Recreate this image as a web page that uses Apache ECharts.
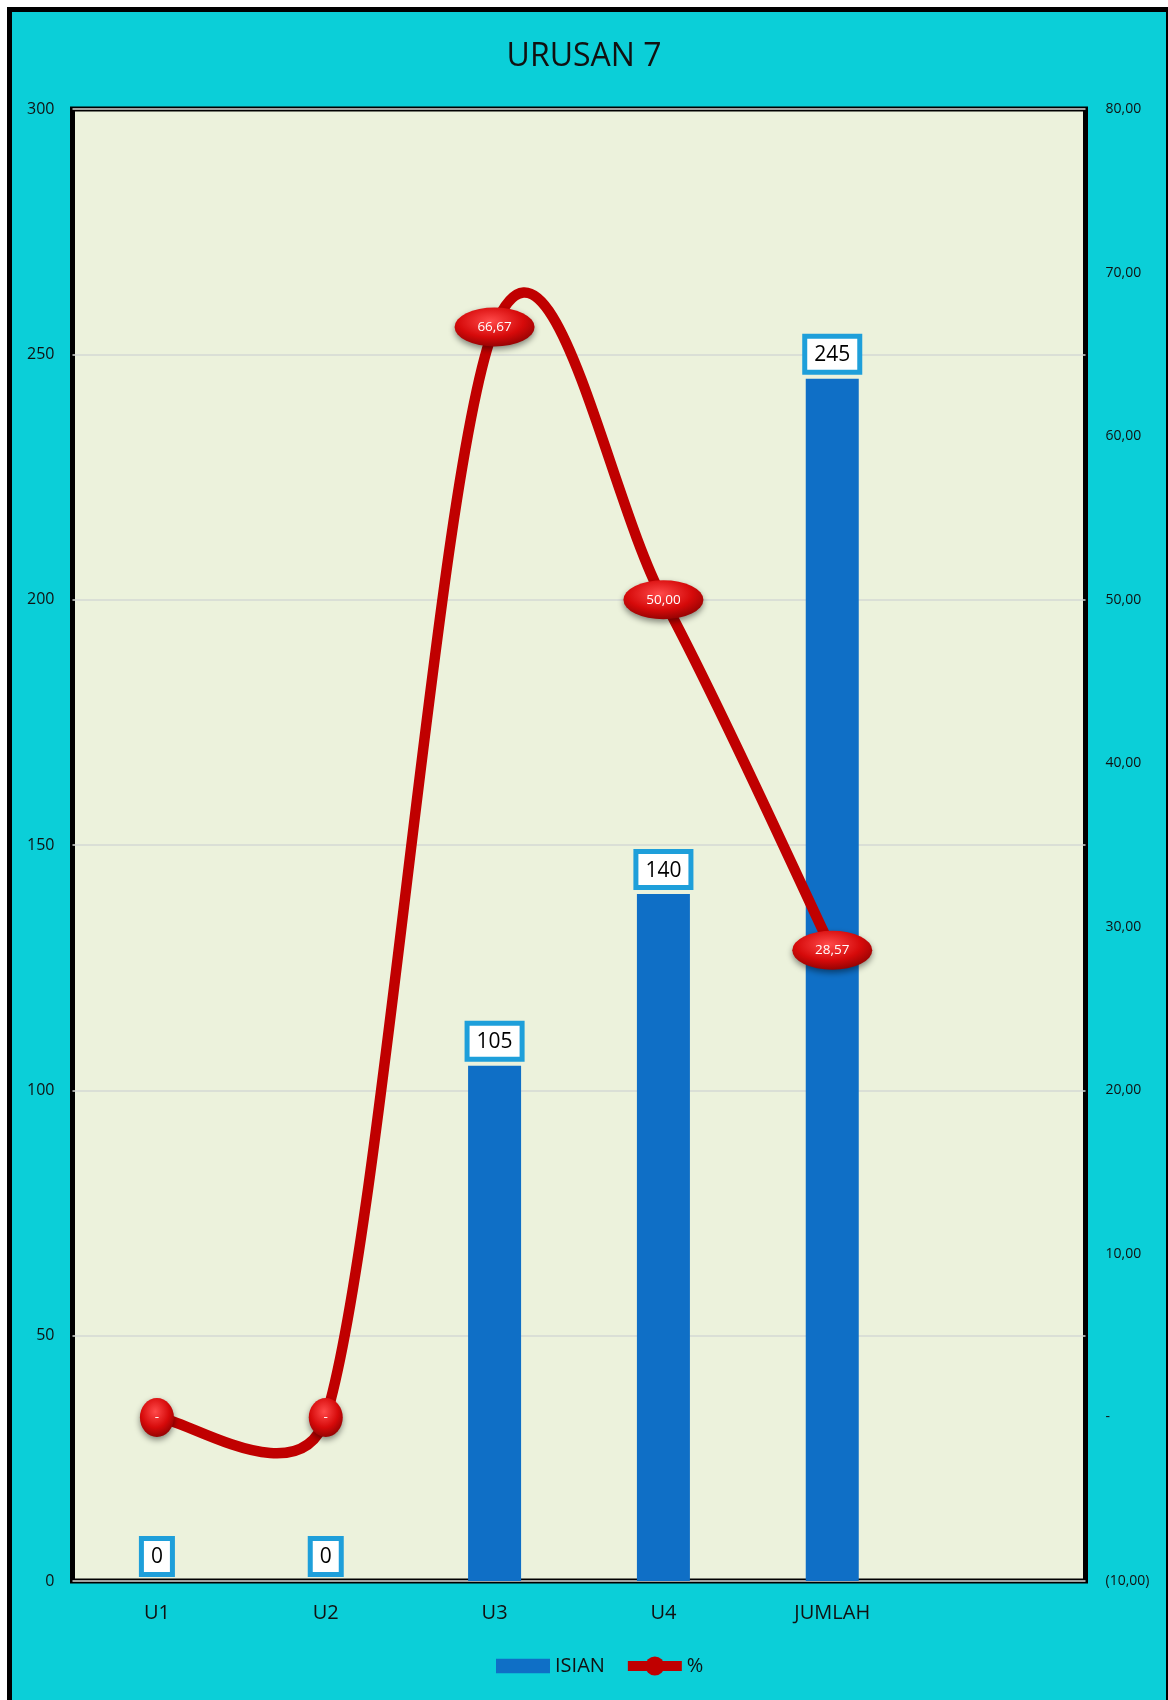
<!DOCTYPE html>
<html>
<head>
<meta charset="utf-8">
<script src="https://cdn.jsdelivr.net/npm/echarts@6/dist/echarts.min.js"></script>
<style>
  html, body { margin: 0; padding: 0; background: #ffffff; }
  body { width: 1168px; height: 1700px; position: relative; overflow: hidden; }
  #frame {
    position: absolute; left: 7px; top: 7px; width: 1164px; height: 1720px;
    box-sizing: border-box; border: 5px solid #000; background: #0BCFD8;
  }
  #chart { position: absolute; left: 0; top: 0; width: 1168px; height: 1700px; }
</style>
</head>
<body>
<div id="frame"></div>
<div id="chart"></div>
<script>
// Categories and series values
const categories = ['U1', 'U2', 'U3', 'U4', 'JUMLAH', ''];
const isian = [0, 0, 105, 140, 245, null];
const persen = [0, 0, 66.67, 50, 28.57, null];

const FONT = '"Open Sans", "Noto Sans", sans-serif';
const LINE_RED = '#C00000';

function fmtPct(v) {
  if (v === 0) return '-';
  if (v < 0) return '(' + Math.abs(v).toFixed(2).replace('.', ',') + ')';
  return v.toFixed(2).replace('.', ',');
}

const ellipse = 'path://M0,20A40,20,0,1,1,80,20A40,20,0,1,1,0,20Z';
const glossRed = {
  type: 'radial', x: 0.45, y: 0.35, r: 0.75,
  colorStops: [
    { offset: 0, color: '#ff4a4a' },
    { offset: 0.55, color: '#d60a0a' },
    { offset: 1, color: '#7d0000' }
  ]
};

const lineData = persen.map(function (v) {
  if (v === null) return null;
  if (v === 0) return { value: v, symbol: ellipse, symbolSize: [34, 39] };
  return { value: v, symbol: ellipse, symbolSize: [80, 39] };
});

// Indices of points that carry a value
const valid = persen.map(function (v, i) { return v === null ? -1 : i; }).filter(function (i) { return i >= 0; });

// Spreadsheet-style smoothed segment between point k and k+1 (cubic Bezier,
// control arms of 1/6 of the neighbour chord, capped at half the segment length)
function renderSmoothSegment(params, api) {
  const k = valid.indexOf(params.dataIndex);
  if (k < 0 || k >= valid.length - 1) return null;
  const pt = function (m) {
    const idx = valid[Math.max(0, Math.min(valid.length - 1, m))];
    return api.coord([idx, persen[idx]]);
  };
  const P0 = pt(k - 1), P1 = pt(k), P2 = pt(k + 1), P3 = pt(k + 2);
  const dist = function (a, b) { return Math.hypot(b[0] - a[0], b[1] - a[1]); };
  const d12 = dist(P1, P2), d02 = dist(P0, P2), d13 = dist(P1, P3);
  const f1 = d02 > 0 ? Math.min(1 / 6, d12 / (2 * d02)) : 0;
  const f2 = d13 > 0 ? Math.min(1 / 6, d12 / (2 * d13)) : 0;
  return {
    type: 'bezierCurve',
    shape: {
      x1: P1[0], y1: P1[1], x2: P2[0], y2: P2[1],
      cpx1: P1[0] + (P2[0] - P0[0]) * f1, cpy1: P1[1] + (P2[1] - P0[1]) * f1,
      cpx2: P2[0] - (P3[0] - P1[0]) * f2, cpy2: P2[1] - (P3[1] - P1[1]) * f2
    },
    style: { stroke: LINE_RED, lineWidth: 10.5, fill: null, lineCap: 'round' }
  };
}

const chart = echarts.init(document.getElementById('chart'), null, { renderer: 'canvas' });
chart.setOption({
  backgroundColor: 'transparent',
  animation: false,
  textStyle: { fontFamily: FONT },
  title: {
    text: 'URUSAN 7', left: 'center', top: 36,
    textStyle: { fontFamily: FONT, fontSize: 32, fontWeight: 'normal', color: '#111' }
  },
  legend: {
    bottom: 19, left: 491, itemGap: 18, itemWidth: 54, itemHeight: 24,
    textStyle: { fontFamily: FONT, fontSize: 20, color: '#111' },
    data: [
      { name: 'ISIAN', icon: 'path://M0,0H52V14H0Z' },
      {
        name: '%',
        lineStyle: { color: LINE_RED, width: 10, opacity: 1 },
        itemStyle: { color: '#C00000', borderColor: '#C00000' }
      }
    ]
  },
  grid: {
    left: 72.5, right: 82.5, top: 109, bottom: 119,
    show: true, backgroundColor: '#ECF2DC', borderColor: '#000', borderWidth: 5
  },
  xAxis: {
    type: 'category', data: categories,
    axisLine: { show: false }, axisTick: { show: false },
    axisLabel: { margin: 22, fontFamily: FONT, fontSize: 20, color: '#111' }
  },
  yAxis: [
    {
      type: 'value', min: 0, max: 300, interval: 50,
      axisLine: { show: false }, axisTick: { show: false },
      axisLabel: { margin: 18, fontFamily: FONT, fontSize: 16, color: '#111' },
      splitLine: { lineStyle: { color: '#d4d8d4', width: 1.5 } }
    },
    {
      type: 'value', min: -10, max: 80, interval: 10, position: 'right',
      axisLine: { show: false }, axisTick: { show: false },
      splitLine: { show: false },
      axisLabel: { margin: 20, fontFamily: FONT, fontSize: 14, color: '#111', formatter: fmtPct }
    }
  ],
  series: [
    {
      name: 'ISIAN', type: 'bar', data: isian, barWidth: 53,
      itemStyle: { color: '#0F6FC6' },
      label: {
        show: true, position: 'top', distance: 9,
        fontFamily: FONT, fontSize: 21, color: '#000',
        backgroundColor: '#fff', borderColor: '#1E9FDA', borderWidth: 5,
        padding: [6, 7, 4, 7]
      },
      z: 2
    },
    {
      name: '%curve', type: 'custom', yAxisIndex: 1,
      data: persen.map(function (v, i) { return [i, v]; }),
      encode: { x: 0, y: 1 },
      renderItem: renderSmoothSegment,
      silent: true,
      z: 4
    },
    {
      name: '%', type: 'line', yAxisIndex: 1, data: lineData,
      symbol: 'circle', symbolSize: 36,
      lineStyle: { color: LINE_RED, width: 9, opacity: 0 },
      itemStyle: {
        color: glossRed, shadowBlur: 6, shadowColor: 'rgba(0,0,0,0.45)', shadowOffsetY: 3
      },
      label: {
        show: true, position: 'inside', fontFamily: FONT, fontSize: 13.5, color: '#fff',
        formatter: function (p) { return fmtPct(p.value); }
      },
      z: 5
    }
  ]
});
</script>
</body>
</html>
